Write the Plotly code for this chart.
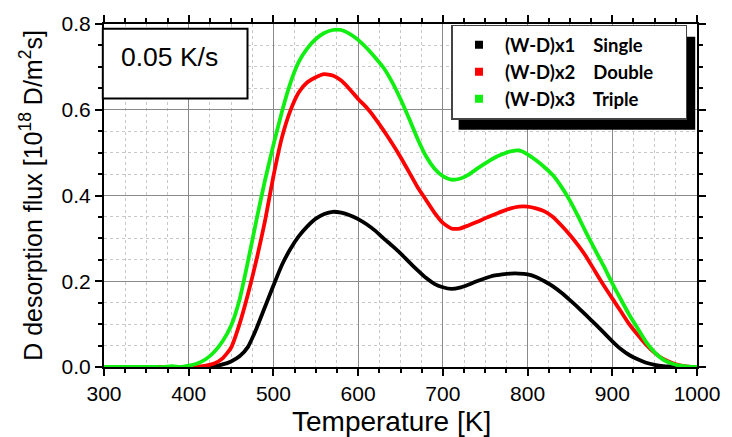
import plotly.graph_objects as go

temperature = list(range(300, 1001, 10))

single = [0]*13 + [
    0.002, 0.006, 0.013, 0.025, 0.047, 0.09, 0.14, 0.19, 0.238, 0.275,
    0.305, 0.328, 0.346, 0.357, 0.362, 0.36, 0.354, 0.345, 0.333, 0.318,
    0.3, 0.283, 0.265, 0.245, 0.226, 0.208, 0.194, 0.186, 0.182, 0.185,
    0.192, 0.2, 0.207, 0.213, 0.216, 0.218, 0.218, 0.216, 0.21, 0.2,
    0.188, 0.173, 0.156, 0.138, 0.119, 0.1, 0.08, 0.06, 0.042, 0.028,
    0.018, 0.01, 0.005, 0.002, 0.001, 0, 0, 0]

double = [0]*11 + [
    0.001, 0.003, 0.008, 0.02, 0.045, 0.1, 0.17, 0.25, 0.34, 0.445,
    0.535, 0.598, 0.641, 0.664, 0.676, 0.683, 0.68, 0.668, 0.648, 0.625,
    0.605, 0.58, 0.552, 0.522, 0.49, 0.455, 0.42, 0.39, 0.36, 0.336,
    0.323, 0.323, 0.33, 0.338, 0.347, 0.355, 0.363, 0.37, 0.374, 0.374,
    0.37, 0.363, 0.35, 0.33, 0.308, 0.283, 0.255, 0.222, 0.19, 0.16,
    0.13, 0.1, 0.075, 0.052, 0.033, 0.019, 0.01, 0.004, 0.001, 0]

triple = [0, 0, 0, 0, 0, 0, 0, 0, 0.002, 0] + [
    0.003, 0.008, 0.018, 0.035, 0.06, 0.096, 0.157, 0.247, 0.343, 0.435,
    0.518, 0.595, 0.662, 0.712, 0.743, 0.765, 0.779, 0.786, 0.786, 0.777,
    0.763, 0.744, 0.722, 0.698, 0.665, 0.625, 0.58, 0.533, 0.492, 0.463,
    0.445, 0.437, 0.439, 0.448, 0.462, 0.475, 0.487, 0.496, 0.503, 0.505,
    0.496, 0.482, 0.466, 0.447, 0.42, 0.388, 0.35, 0.31, 0.272, 0.235,
    0.195, 0.158, 0.122, 0.09, 0.058, 0.034, 0.017, 0.008, 0.003, 0.001, 0]

nb = "\u00a0"
series_names = ["(W-D)x1" + nb*4 + "Single" + nb*6,
                "(W-D)x2" + nb*4 + "Double" + nb*6,
                "(W-D)x3" + nb*4 + "Triple" + nb*6]
series_values = [single, double, triple]
series_colors = ["#000000", "#ff0000", "#11ee11"]

fig = go.Figure()
for vals, col in zip(series_values, series_colors):
    fig.add_trace(go.Scatter(x=temperature, y=vals, mode="lines",
                             line=dict(color=col, width=3.8, shape="spline", smoothing=0.5),
                             showlegend=False, hoverinfo="skip"))
for name, col in zip(series_names, series_colors):
    fig.add_trace(go.Scatter(x=[None], y=[None], mode="markers", name=name,
                             marker=dict(symbol="square", size=8, color=col)))

axis_common = dict(
    showline=True, linecolor="black", linewidth=2, mirror="allticks",
    ticks="outside", tickcolor="black", tickwidth=1.5, ticklen=7,
    showgrid=True, gridcolor="#8a8a8a", gridwidth=1,
    zeroline=False,
    tickfont=dict(family="Liberation Sans, Arial", size=21, color="black"),
)

fig.update_xaxes(**axis_common, range=[300, 1000], tick0=300, dtick=100,
                 minor=dict(dtick=25, ticks="outside", ticklen=4, tickcolor="black",
                            showgrid=True, gridcolor="#c8c8c8", griddash="dot", gridwidth=1))
fig.update_yaxes(**axis_common, range=[0, 0.8], tick0=0, dtick=0.2, tickformat=".1f",
                 minor=dict(dtick=0.05, ticks="outside", ticklen=4, tickcolor="black",
                            showgrid=True, gridcolor="#c8c8c8", griddash="dot", gridwidth=1),
                 title=dict(text="D desorption flux [10<sup>18</sup> D/m<sup>2</sup>s]", standoff=12,
                            font=dict(family="Liberation Sans, Arial", size=25, color="black")))

fig.update_layout(
    width=732, height=437,
    margin=dict(l=104, r=29, t=17, b=70),
    plot_bgcolor="white", paper_bgcolor="white",
    legend=dict(x=0.586, y=0.998, xanchor="left", yanchor="top",
                bgcolor="white", bordercolor="#444444", borderwidth=1.5,
                font=dict(family="Lato", size=18.5, color="black", weight="bold"),
                tracegroupgap=0, itemwidth=42),
    shapes=[
        dict(type="rect", xref="paper", yref="paper", x0=0.598, x1=0.997, y0=0.692, y1=0.963,
             fillcolor="black", line=dict(width=0), layer="above"),
        dict(type="rect", xref="paper", yref="paper", x0=-0.002, x1=0.242, y0=0.783, y1=0.986,
             fillcolor="white", line=dict(color="black", width=2), layer="above"),
    ],
    annotations=[
        dict(text="0.05 K/s", xref="paper", yref="paper", x=0.11, y=0.905,
             xanchor="center", yanchor="middle", showarrow=False,
             font=dict(family="Liberation Sans, Arial", size=26.5, color="black")),
        dict(text="Temperature [K]", xref="paper", yref="paper", x=0.485, y=-0.16,
             xanchor="center", yanchor="middle", showarrow=False,
             font=dict(family="Liberation Sans, Arial", size=28, color="black")),
    ],
)

fig.write_html("out.html")
